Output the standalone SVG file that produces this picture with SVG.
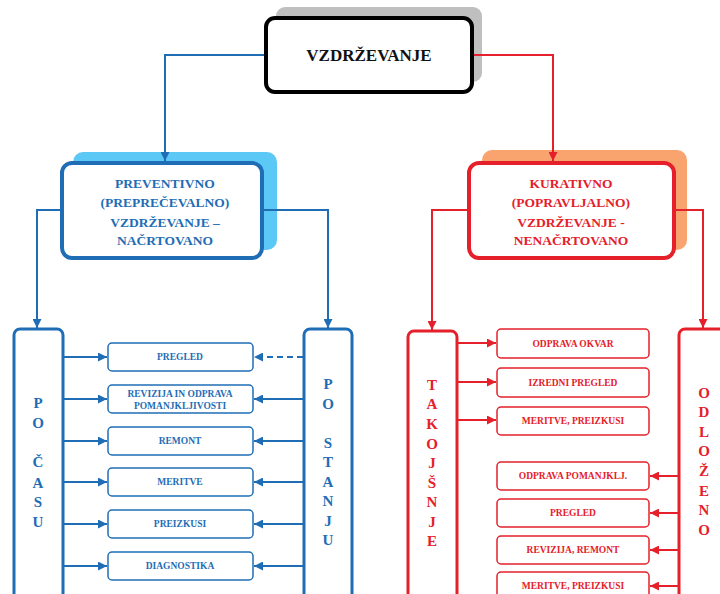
<svg xmlns="http://www.w3.org/2000/svg" width="720" height="594" viewBox="0 0 720 594">
<style>
text{font-family:"Liberation Serif","Times New Roman",serif;font-weight:bold;text-anchor:middle}
.b{fill:#1f6db5}
.r{fill:#e5202a}
.bl{stroke:#1f6db5;stroke-width:2;fill:none;marker-end:url(#ab)}
.rl{stroke:#e5202a;stroke-width:2;fill:none;marker-end:url(#ar)}
.bbox{fill:#fff;stroke:#1f6db5;stroke-width:1.5}
.rbox{fill:#fff;stroke:#e5202a;stroke-width:1.5}
.s{font-size:9.5px}
.v{font-size:15px}
</style>
<defs>
<marker id="ab" viewBox="0 0 10 10" refX="10" refY="5" markerWidth="9" markerHeight="9" orient="auto" markerUnits="userSpaceOnUse">
<path d="M0,0L10,5L0,10z" fill="#1f6db5"/>
</marker>
<marker id="ar" viewBox="0 0 10 10" refX="10" refY="5" markerWidth="9" markerHeight="9" orient="auto" markerUnits="userSpaceOnUse">
<path d="M0,0L10,5L0,10z" fill="#e5202a"/>
</marker>
</defs>
<rect width="720" height="594" fill="#fff"/>

<g id="vzdrzevanje">
<rect x="276" y="7" width="206" height="75" rx="9" fill="#bfbfbf"/>
<rect x="266" y="18" width="206" height="74" rx="9" fill="#fff" stroke="#000" stroke-width="4"/>
<text x="369" y="61" font-size="17" fill="#111">VZDRŽEVANJE</text>
</g>

<g id="preventivno">
<rect x="73" y="152" width="204" height="98" rx="10" fill="#5cc8f5"/>
<rect x="62" y="163" width="200" height="95" rx="10" fill="#fff" stroke="#1f6db5" stroke-width="4"/>
<text class="b" font-size="13.5" x="165" y="188">PREVENTIVNO</text>
<text class="b" font-size="13.5" x="165" y="207">(PREPREČEVALNO)</text>
<text class="b" font-size="13.5" x="165" y="227">VZDRŽEVANJE –</text>
<text class="b" font-size="13.5" x="165" y="245">NAČRTOVANO</text>
</g>

<g id="kurativno">
<rect x="482" y="150" width="205" height="100" rx="10" fill="#f9a46e"/>
<rect x="469" y="163" width="205" height="95" rx="10" fill="#fff" stroke="#e5202a" stroke-width="4"/>
<text class="r" font-size="13.5" x="571" y="188">KURATIVNO</text>
<text class="r" font-size="13.5" x="571" y="207">(POPRAVLJALNO)</text>
<text class="r" font-size="13.5" x="571" y="227">VZDRŽEVANJE -</text>
<text class="r" font-size="13.5" x="571" y="245">NENAČRTOVANO</text>
</g>

<g id="po-casu">
<rect x="14" y="329" width="49" height="280" rx="6" fill="#fff" stroke="#1f6db5" stroke-width="3"/>
<text class="b v" x="38" y="408">P</text>
<text class="b v" x="38" y="428">O</text>
<text class="b v" x="38" y="467">Č</text>
<text class="b v" x="38" y="488">A</text>
<text class="b v" x="38" y="507">S</text>
<text class="b v" x="38" y="527">U</text>
</g>

<g id="po-stanju">
<rect x="304" y="329" width="48" height="280" rx="6" fill="#fff" stroke="#1f6db5" stroke-width="3"/>
<text class="b v" x="328" y="389">P</text>
<text class="b v" x="328" y="409">O</text>
<text class="b v" x="328" y="448">S</text>
<text class="b v" x="328" y="467">T</text>
<text class="b v" x="328" y="487">A</text>
<text class="b v" x="328" y="506">N</text>
<text class="b v" x="328" y="526">J</text>
<text class="b v" x="328" y="545">U</text>
</g>

<g id="pregled-b"><rect class="bbox" x="108" y="343" width="145" height="28" rx="4"/><text class="b s" x="180" y="360">PREGLED</text></g>
<g id="revizija-b"><rect class="bbox" x="108" y="385" width="145" height="28" rx="4"/><text class="b s" x="180" y="397">REVIZIJA IN ODPRAVA</text><text class="b s" x="180" y="409">POMANJKLJIVOSTI</text></g>
<g id="remont-b"><rect class="bbox" x="108" y="427" width="145" height="28" rx="4"/><text class="b s" x="180" y="444">REMONT</text></g>
<g id="meritve-b"><rect class="bbox" x="108" y="468" width="145" height="28" rx="4"/><text class="b s" x="180" y="485">MERITVE</text></g>
<g id="preizkusi-b"><rect class="bbox" x="108" y="510" width="145" height="28" rx="4"/><text class="b s" x="180" y="527">PREIZKUSI</text></g>
<g id="diagnostika-b"><rect class="bbox" x="108" y="552" width="145" height="28" rx="4"/><text class="b s" x="180" y="569">DIAGNOSTIKA</text></g>

<g id="takojsnje">
<rect x="408" y="331" width="49" height="280" rx="6" fill="#fff" stroke="#e5202a" stroke-width="3"/>
<text class="r v" x="432" y="390">T</text>
<text class="r v" x="432" y="409">A</text>
<text class="r v" x="432" y="429">K</text>
<text class="r v" x="432" y="449">O</text>
<text class="r v" x="432" y="468">J</text>
<text class="r v" x="432" y="488">Š</text>
<text class="r v" x="432" y="507">N</text>
<text class="r v" x="432" y="527">J</text>
<text class="r v" x="432" y="546">E</text>
</g>

<g id="odlozeno">
<rect x="679" y="329" width="50" height="280" rx="6" fill="#fff" stroke="#e5202a" stroke-width="3"/>
<text class="r v" x="704" y="398">O</text>
<text class="r v" x="704" y="417">D</text>
<text class="r v" x="704" y="437">L</text>
<text class="r v" x="704" y="456">O</text>
<text class="r v" x="704" y="476">Ž</text>
<text class="r v" x="704" y="496">E</text>
<text class="r v" x="704" y="515">N</text>
<text class="r v" x="704" y="535">O</text>
</g>

<g id="odprava-okvar"><rect class="rbox" x="497" y="329" width="152" height="29" rx="4"/><text class="r s" x="573" y="347">ODPRAVA OKVAR</text></g>
<g id="izredni-pregled"><rect class="rbox" x="497" y="368" width="152" height="29" rx="4"/><text class="r s" x="573" y="386">IZREDNI  PREGLED</text></g>
<g id="meritve-preizkusi-1"><rect class="rbox" x="497" y="407" width="152" height="28" rx="4"/><text class="r s" x="573" y="424">MERITVE, PREIZKUSI</text></g>
<g id="odprava-pomanjklj"><rect class="rbox" x="497" y="462" width="152" height="28" rx="4"/><text class="r s" x="573" y="479">ODPRAVA POMANJKLJ.</text></g>
<g id="pregled-r"><rect class="rbox" x="497" y="499" width="152" height="28" rx="4"/><text class="r s" x="573" y="516">PREGLED</text></g>
<g id="revizija-remont"><rect class="rbox" x="497" y="536" width="152" height="28" rx="4"/><text class="r s" x="573" y="553">REVIZIJA, REMONT</text></g>
<g id="meritve-preizkusi-2"><rect class="rbox" x="497" y="572" width="152" height="28" rx="4"/><text class="r s" x="573" y="589">MERITVE, PREIZKUSI</text></g>

<g id="connectors">
<path class="bl" d="M264,55H165V161"/>
<path class="rl" d="M474,55H553V161"/>
<path class="bl" d="M60,210H37V328"/>
<path class="bl" d="M264,210H328V328"/>
<path class="rl" d="M467,210H432V330"/>
<path class="rl" d="M676,210H703V328"/>
<path class="bl" d="M64,357H107"/>
<path class="bl" d="M64,399H107"/>
<path class="bl" d="M64,441H107"/>
<path class="bl" d="M64,482H107"/>
<path class="bl" d="M64,524H107"/>
<path class="bl" d="M64,566H107"/>
<path class="bl" d="M303,357H254" stroke-dasharray="6,4"/>
<path class="bl" d="M303,399H254"/>
<path class="bl" d="M303,441H254"/>
<path class="bl" d="M303,482H254"/>
<path class="bl" d="M303,524H254"/>
<path class="bl" d="M303,566H254"/>
<path class="rl" d="M458,343H496"/>
<path class="rl" d="M458,382H496"/>
<path class="rl" d="M458,420H496"/>
<path class="rl" d="M678,476H650"/>
<path class="rl" d="M678,513H650"/>
<path class="rl" d="M678,550H650"/>
<path class="rl" d="M678,586H650"/>
</g>
</svg>
